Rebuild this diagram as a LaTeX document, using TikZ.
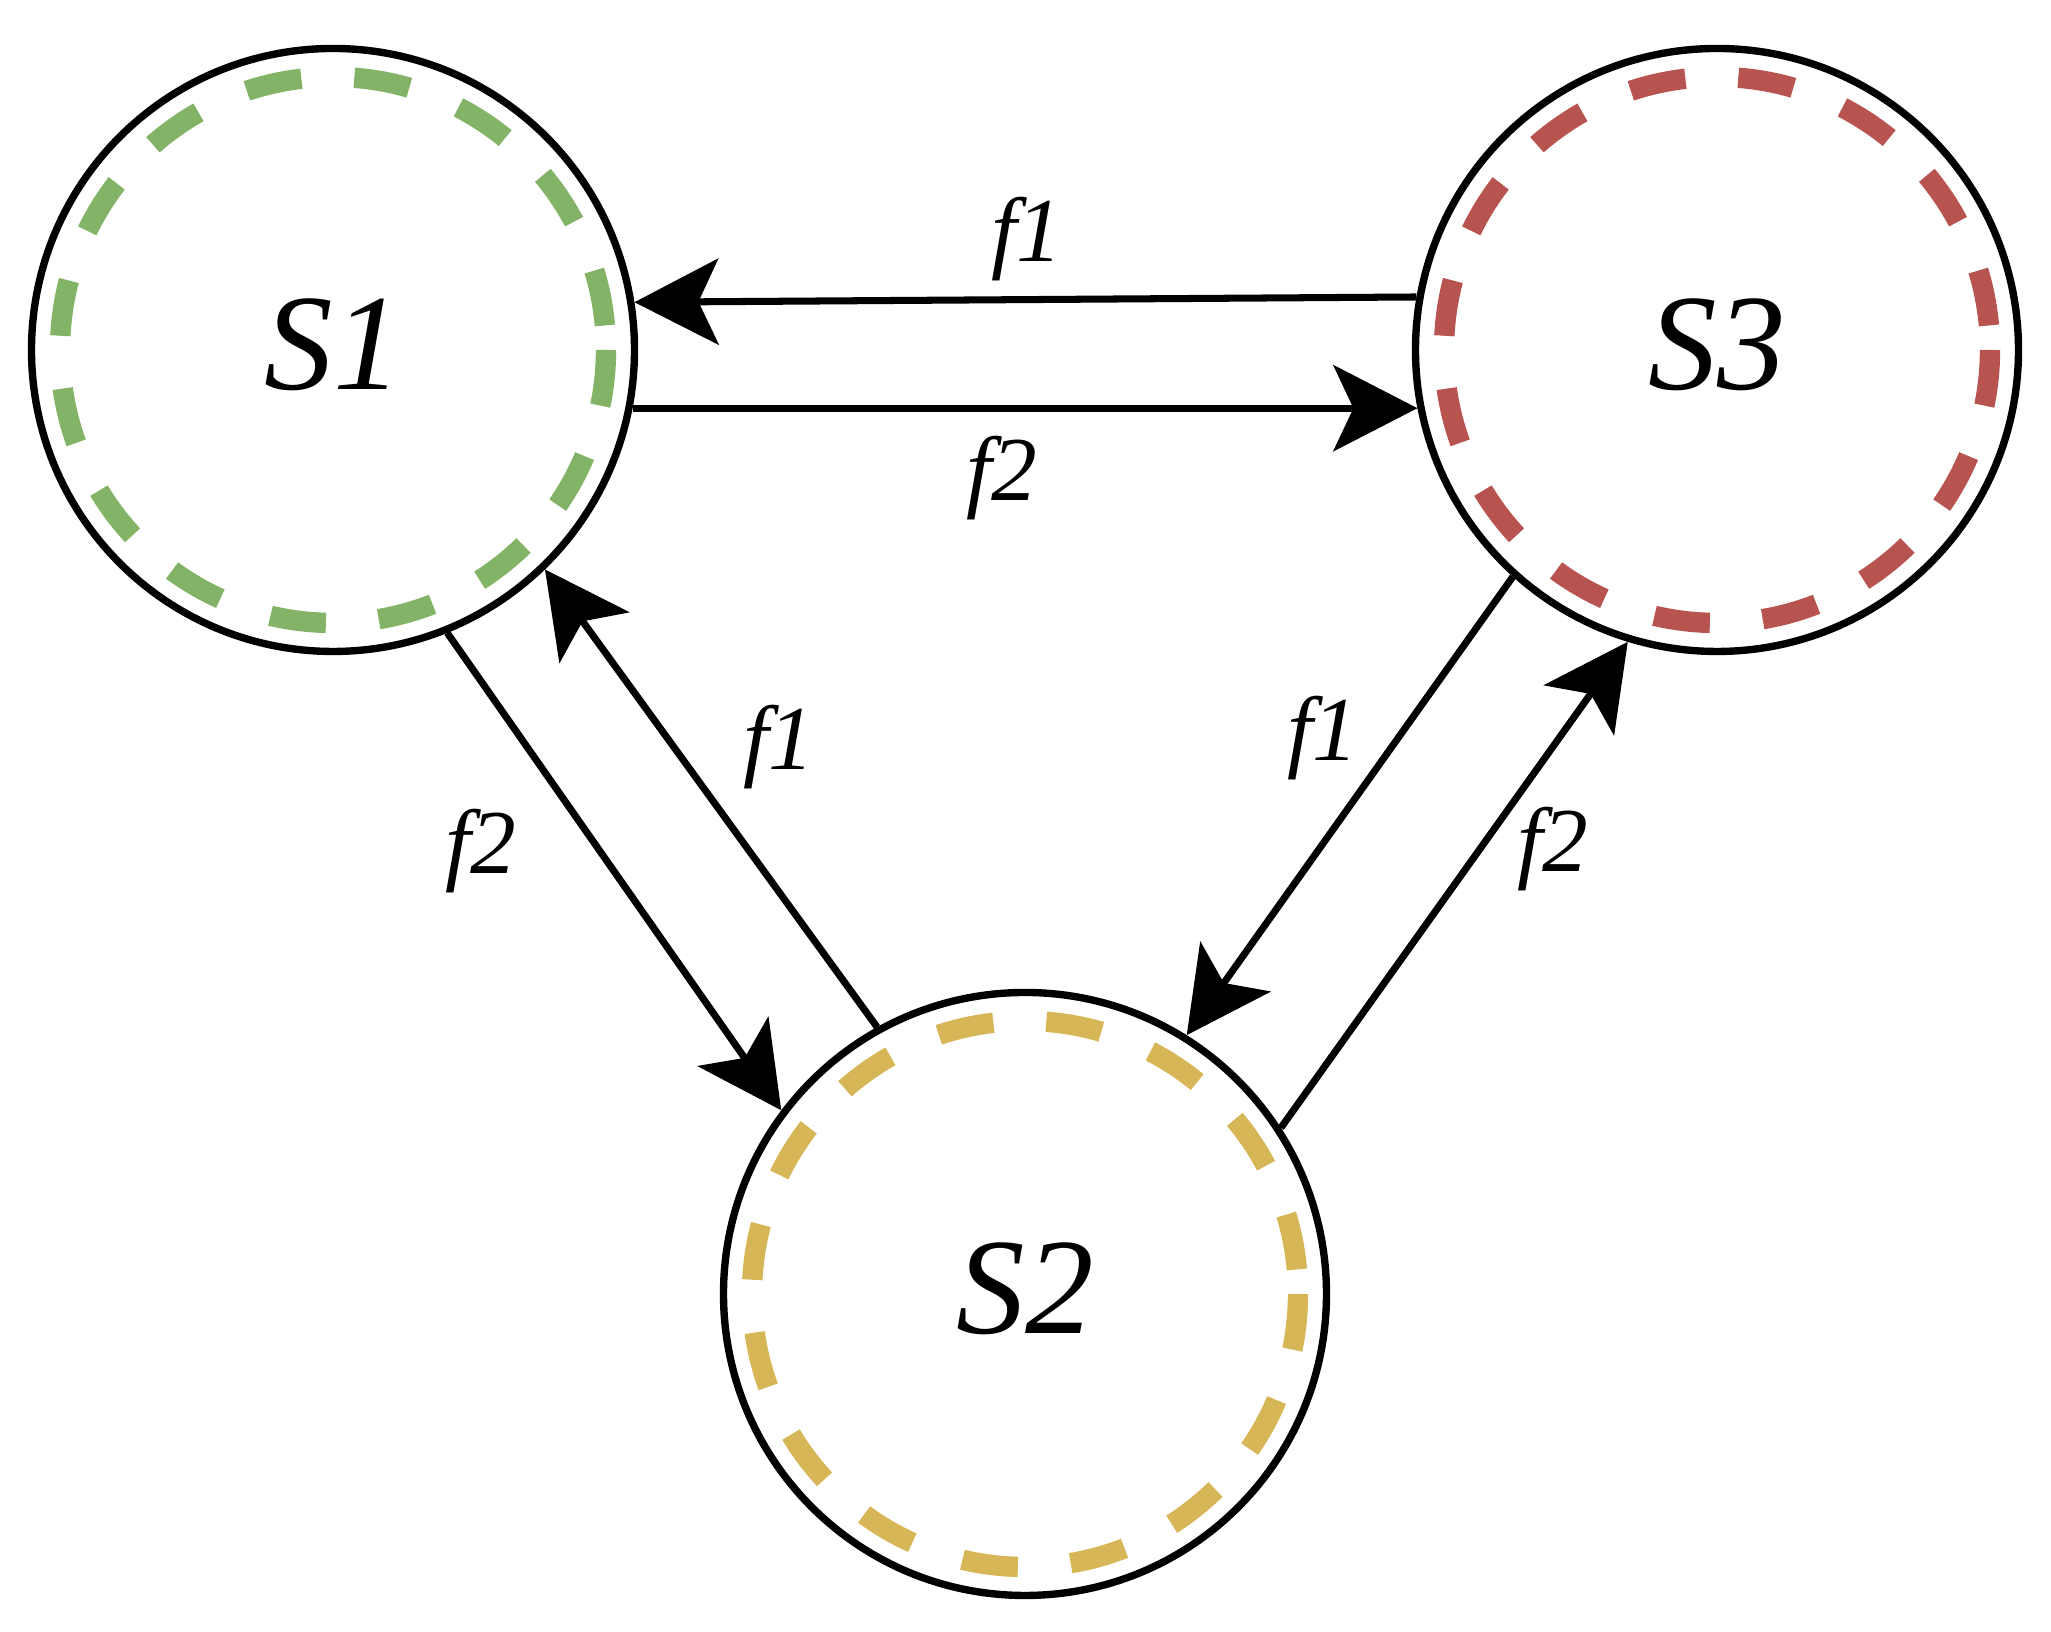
\documentclass[tikz,border=0pt]{standalone}
\usepackage{fontspec}
\setmainfont{Liberation Serif}[ItalicFont={Liberation Serif Italic}]
\usepackage{tikz}
\usetikzlibrary{arrows.meta,positioning}
\definecolor{sgreen}{RGB}{130,179,102}
\definecolor{syellow}{RGB}{214,182,86}
\definecolor{sred}{RGB}{184,84,80}

\begin{document}
\begin{tikzpicture}[
  state/.style={circle,draw=black,line width=2.1pt,minimum size=6.03cm,inner sep=0pt,text depth=0.12cm,font=\fontsize{39}{39}\selectfont\itshape},
  ring/.style={line width=5.8pt,dash pattern=on 0.56cm off 0.53cm},
  flow/.style={-{Stealth[length=0.84cm,width=0.86cm,inset=0.2cm]},line width=2pt},
  lab/.style={font=\fontsize{26}{26}\selectfont\itshape}]
\useasboundingbox (0,0) rectangle (20.51,16.32);
\node[state] (s1) at (3.33,12.82) {S1};
\node[state] (s3) at (17.17,12.82) {S3};
\node[state] (s2) at (10.25,3.38) {S2};
% dashed rings, clockwise from the east point
\draw[ring,color=sgreen] (s1.center) ++(2.73,0) arc[start angle=0,end angle=-360,radius=2.73];
\draw[ring,color=sred] (s3.center) ++(2.73,0) arc[start angle=0,end angle=-360,radius=2.73];
\draw[ring,color=syellow] (s2.center) ++(2.73,0) arc[start angle=0,end angle=-360,radius=2.73];
\draw[flow] (s3.170.6) to (s1.9.4);
\draw[flow] (s1.349) to (s3.191);
\draw[flow] (s1.292.1) to (s2.143);
\draw[flow] (s2.119.7) to (s1.314.6);
\draw[flow] (s3.228.9) to (s2.58);
\draw[flow] (s2.33.5) to (s3.253);
\node[lab] (f1top) at (10.27,13.93) {f1};
\node[lab] (f2top) at (10.02,11.54) {f2};
\node[lab] (f1left) at (7.79,8.85) {f1};
\node[lab] (f2left) at (4.81,7.81) {f2};
\node[lab] (f1right) at (13.23,8.94) {f1};
\node[lab] (f2right) at (15.53,7.83) {f2};
\end{tikzpicture}
\end{document}
